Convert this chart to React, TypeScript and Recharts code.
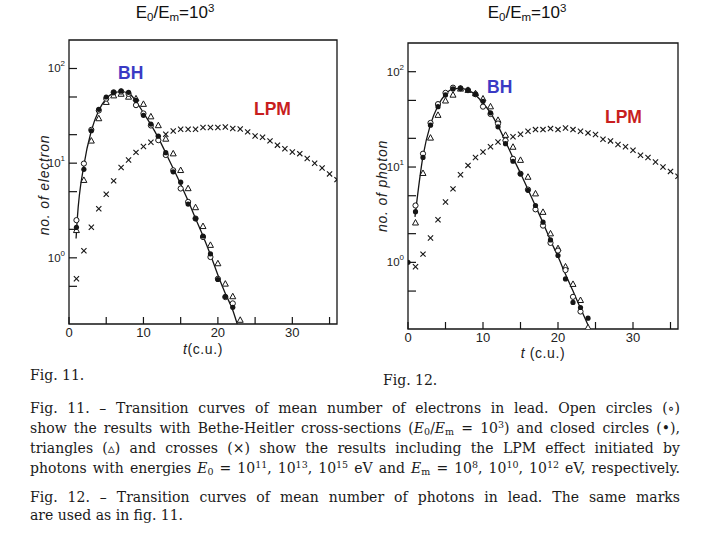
import React from 'react'
import { ComposedChart, Line, Scatter, XAxis, YAxis, ReferenceArea } from 'recharts'

// ---- Fig. 11: electrons ----
const elecOpenT = [1, 2, 3, 4, 5, 6, 7, 8, 9, 10, 11, 12, 13, 14, 15, 16, 17, 18, 19, 20, 21, 22]
const elecOpen = [2.5, 9.9, 22.5, 36, 48, 56, 57, 54, 41, 33.5, 25, 17.5, 12.2, 8.4, 5.4, 3.9, 2.6, 1.66, 1.02, 0.6, 0.385, 0.33]
const elecClosedT = [1, 2, 3, 4, 5, 6, 7, 8, 9, 10, 11, 12, 13, 14, 15, 16, 17, 18, 19, 20, 21, 22]
const elecClosed = [2.1, 8.6, 22, 37, 50, 56, 58, 56, 46, 32, 25.9, 19.3, 12.9, 8.1, 6.3, 3.7, 2.6, 1.7, 1.1, 0.59, 0.39, 0.3]
const elecTriT = [1, 2, 3, 4, 5, 6, 7, 8, 9, 10, 11, 12, 13, 14, 15, 16, 17, 18, 19, 20, 21, 22, 23]
const elecTri = [1.95, 6.6, 17.2, 29.6, 44, 51.6, 53.7, 50, 48, 42, 31, 25, 18, 12.6, 8.4, 5.4, 3.4, 2.15, 1.36, 0.87, 0.53, 0.39, 0.22]
const elecCrossT = [1, 2, 3, 4, 5, 6, 7, 8, 9, 10, 11, 12, 13, 14, 15, 16, 17, 18, 19, 20, 21, 22, 23, 24, 25, 26, 27, 28, 29, 30, 31, 32, 33, 34, 35, 36]
const elecCross = [0.6, 1.19, 2.1, 3.3, 4.7, 6.5, 9.0, 10.8, 13.0, 15.0, 16.6, 18.3, 20.2, 21.9, 22.8, 22.8, 22.8, 23.8, 23.8, 23.8, 24.1, 23.2, 23.0, 21.4, 19.4, 18.8, 17.2, 15.5, 14.2, 13.1, 12.6, 11.2, 10.0, 8.9, 7.7, 6.7]
const elecCurveT = [0.95, 1.1, 2, 3, 4, 5, 6, 7, 8, 9, 10, 11, 12, 13, 14, 15, 16, 17, 18, 19, 20, 21, 22, 22.6]
const elecCurve = [1.6, 2.5, 9.5, 22, 36, 48, 55, 57, 55, 45, 34, 25.5, 18.5, 12.8, 8.8, 6.0, 4.0, 2.6, 1.7, 1.08, 0.66, 0.42, 0.28, 0.2]

// ---- Fig. 12: photons ----
const photOpenT = [1, 2, 3, 4, 5, 6, 7, 8, 9, 10, 11, 12, 13, 14, 15, 16, 17, 18, 19, 20, 21, 22, 23]
const photOpen = [3.95, 13.8, 29, 45.7, 60, 68, 67, 64, 58, 43, 36, 28.6, 19, 12.2, 8.5, 5.8, 3.6, 2.43, 1.6, 1.33, 0.83, 0.435, 0.305]
const photClosedT = [0, 1, 2, 3, 4, 5, 6, 7, 8, 9, 10, 11, 12, 13, 14, 15, 16, 17, 18, 19, 20, 21, 22, 23, 24]
const photClosed = [1.0, 3.4, 12.6, 27.5, 43, 57, 66, 67, 64, 58, 49, 37, 26.4, 17.6, 11.5, 8.5, 5.7, 3.95, 2.64, 1.72, 1.18, 0.67, 0.38, 0.336, 0.26]
const photTriT = [1, 2, 3, 4, 5, 6, 7, 8, 9, 10, 11, 12, 13, 14, 15, 16, 17, 18, 19, 20, 21, 22, 23, 24]
const photTri = [2.6, 8.6, 20.2, 35, 49.5, 57, 66, 64, 59, 52, 43, 31, 21.6, 16.2, 11.8, 7.85, 5.25, 3.36, 2.0, 1.4, 0.9, 0.59, 0.4, 0.207]
const photCrossT = [1, 2, 3, 4, 5, 6, 7, 8, 9, 10, 11, 12, 13, 14, 15, 16, 17, 18, 19, 20, 21, 22, 23, 24, 25, 26, 27, 28, 29, 30, 31, 32, 33, 34, 35, 36]
const photCross = [0.9, 1.22, 1.8, 2.8, 4.3, 5.9, 8.3, 10.4, 12.6, 14.4, 16.3, 18.3, 19.9, 20.8, 22.1, 23.7, 24.7, 24.7, 25.3, 24.7, 25.7, 24.7, 23.7, 22.8, 21.9, 19.6, 18.8, 17.2, 16.3, 15.0, 13.3, 12.6, 11.3, 10.0, 9.0, 8.0]
const photCurveT = [0.93, 2, 3, 4, 5, 6, 7, 8, 9, 10, 11, 12, 13, 14, 15, 16, 17, 18, 19, 20, 21, 22, 23, 24]
const photCurve = [3.0, 13, 28, 44, 58, 66, 67, 64, 57, 47, 37, 27, 18.5, 12.5, 8.6, 5.8, 3.9, 2.6, 1.7, 1.15, 0.75, 0.5, 0.33, 0.22]

const xTicks = [0, 5, 10, 15, 20, 25, 30, 35]
const yTicks = [0.5, 1, 2, 5, 10, 20, 50, 100]

const pts = (ts: number[], vs: number[]) => ts.map((t, i) => ({ t, v: vs[i] }))

const INK = '#151515'
const sans = '"Liberation Sans", Arial, sans-serif'

const OpenCircle = (p: any) => <circle cx={p.cx} cy={p.cy} r={2.6} fill="#fff" stroke={INK} strokeWidth={1} />
const ClosedCircle = (p: any) => <circle cx={p.cx} cy={p.cy} r={2.6} fill={INK} />
const Triangle = (p: any) => (
  <path d={`M${p.cx},${p.cy - 3.3} L${p.cx + 3},${p.cy + 2.2} L${p.cx - 3},${p.cy + 2.2} Z`} fill="#fff" stroke={INK} strokeWidth={1} />
)
const Cross = (p: any) => (
  <g stroke={INK} strokeWidth={1.1}>
    <line x1={p.cx - 2.6} y1={p.cy - 2.6} x2={p.cx + 2.6} y2={p.cy + 2.6} />
    <line x1={p.cx - 2.6} y1={p.cy + 2.6} x2={p.cx + 2.6} y2={p.cy - 2.6} />
  </g>
)

function XTick({ x, y, payload }: any) {
  const v = payload.value
  return (
    <g>
      <line x1={x} y1={y} x2={x} y2={y - 7} stroke={INK} strokeWidth={1.2} />
      {v % 10 === 0 && (
        <text x={x} y={y + 13} textAnchor="middle" fontSize={13} fill="#222" fontFamily={sans}>{v}</text>
      )}
    </g>
  )
}

function YTick({ x, y, payload }: any) {
  const v = payload.value
  const lg = Math.log10(v)
  const exp = Math.round(lg)
  const decade = Math.abs(lg - exp) < 1e-6
  return (
    <g>
      <line x1={x} y1={y} x2={x + 8} y2={y} stroke={INK} strokeWidth={1.2} />
      {decade && (
        <text x={x - 4} y={y + 4} textAnchor="end" fontSize={11.5} fill="#222" fontFamily={sans}>
          10<tspan dy={-6} fontSize={8}>{exp}</tspan>
        </text>
      )}
    </g>
  )
}

interface PanelProps {
  left: number
  yWidth: number
  margin: { top: number; right: number; bottom: number; left: number }
  open: { t: number; v: number }[]
  closed: { t: number; v: number }[]
  tri: { t: number; v: number }[]
  cross: { t: number; v: number }[]
  curve: { t: number; v: number }[]
}

function Panel({ left, yWidth, margin, open, closed, tri, cross, curve }: PanelProps) {
  return (
    <div style={{ position: 'absolute', left, top: 0 }}>
      <ComposedChart width={360} height={370} margin={margin}>
        <XAxis type="number" dataKey="t" domain={[0, 36]} ticks={xTicks} interval={0} height={30}
          tickLine={false} tickSize={0} tickMargin={0} axisLine={false} tick={<XTick />} allowDataOverflow />
        <YAxis type="number" scale="log" domain={[0.2, 200]} ticks={yTicks} interval={0} width={yWidth}
          tickLine={false} tickSize={0} tickMargin={0} axisLine={false} tick={<YTick />} allowDataOverflow />
        <ReferenceArea x1={0} x2={36} y1={0.2} y2={200} fill="none" stroke={INK} strokeWidth={1.3} />
        <Line data={curve} dataKey="v" type="monotone" stroke={INK} strokeWidth={1.3} dot={false} isAnimationActive={false} />
        <Scatter data={cross} dataKey="v" shape={Cross} isAnimationActive={false} />
        <Scatter data={tri} dataKey="v" shape={Triangle} isAnimationActive={false} />
        <Scatter data={open} dataKey="v" shape={OpenCircle} isAnimationActive={false} />
        <Scatter data={closed} dataKey="v" shape={ClosedCircle} isAnimationActive={false} />
      </ComposedChart>
    </div>
  )
}

const abs = (x: number, y: number, extra: React.CSSProperties = {}): React.CSSProperties => ({
  position: 'absolute', left: x, top: y, whiteSpace: 'nowrap', ...extra,
})

function Title({ x }: { x: number }) {
  const s: React.CSSProperties = { fontSize: 11.5, lineHeight: 0 }
  return (
    <div style={abs(x, 3, { fontFamily: sans, fontSize: 17, color: '#111', transform: 'translateX(-50%)' })}>
      E<sub style={{ ...s, verticalAlign: '-3px' }}>0</sub>/E<sub style={{ ...s, verticalAlign: '-3px' }}>m</sub>=10<sup style={{ ...s, verticalAlign: '6px' }}>3</sup>
    </div>
  )
}

const tag = (txt: string, x: number, y: number, color: string) => (
  <div style={abs(x, y, { fontFamily: sans, fontWeight: 700, fontSize: 17.5, color, lineHeight: '18px' })}>{txt}</div>
)

const axTitle = (txt: string, cx: number, cy: number) => (
  <div style={abs(cx, cy, { fontFamily: sans, fontStyle: 'italic', fontSize: 14, letterSpacing: 0.8, color: '#222', transform: 'translate(-50%,-50%) rotate(-90deg)', lineHeight: '16px' })}>{txt}</div>
)

const xTitle = (cx: number, cy: number, txt: string) => (
  <div style={abs(cx, cy, { fontFamily: sans, fontSize: 14, letterSpacing: 0.6, color: '#222', transform: 'translate(-50%,-50%)', lineHeight: '16px' })}>
    <i>t</i>{txt}
  </div>
)

const serif = '"DejaVu Serif", "Liberation Serif", serif'
const sub = (s: string) => <sub style={{ fontSize: '0.68em', lineHeight: 0, verticalAlign: '-0.25em' }}>{s}</sub>
const sup = (s: string) => <sup style={{ fontSize: '0.68em', lineHeight: 0, verticalAlign: '0.5em' }}>{s}</sup>

const capLine = (y: number, content: React.ReactNode, justify = true) => (
  <div style={{
    position: 'absolute', left: 30, top: y, width: 650, fontFamily: serif, fontSize: 14, lineHeight: '20px', color: '#1a1a1a',
    whiteSpace: 'nowrap', textAlign: justify ? 'justify' : 'left', textAlignLast: justify ? 'justify' : 'left',
  }}>{content}</div>
)

export default function App() {
  return (
    <div style={{ position: 'absolute', left: 0, top: 0, width: 720, height: 540, background: '#fff', overflow: 'hidden' }}>
      <Panel left={0} yWidth={69} margin={{ top: 40, right: 23, bottom: 16, left: 0 }}
        open={pts(elecOpenT, elecOpen)} closed={pts(elecClosedT, elecClosed)} tri={pts(elecTriT, elecTri)}
        cross={pts(elecCrossT, elecCross)} curve={pts(elecCurveT, elecCurve)} />
      <Panel left={360} yWidth={48} margin={{ top: 43, right: 42, bottom: 11, left: 0 }}
        open={pts(photOpenT, photOpen)} closed={pts(photClosedT, photClosed)} tri={pts(photTriT, photTri)}
        cross={pts(photCrossT, photCross)} curve={pts(photCurveT, photCurve)} />

      <Title x={175} />
      <Title x={527} />
      {tag('BH', 118, 64, '#3a3ac4')}
      {tag('LPM', 254, 100, '#c81e1e')}
      {tag('BH', 487, 78, '#3a3ac4')}
      {tag('LPM', 605, 108, '#c81e1e')}
      {axTitle('no. of electron', 44, 185)}
      {axTitle('no. of photon', 382, 186)}
      {xTitle(203, 349, '(c.u.)')}
      {xTitle(543, 353, ' (c.u.)')}

      <div style={abs(30, 366, { fontFamily: serif, fontSize: 14, lineHeight: '18px', color: '#1a1a1a' })}>Fig. 11.</div>
      <div style={abs(383, 371, { fontFamily: serif, fontSize: 14, lineHeight: '18px', color: '#1a1a1a' })}>Fig. 12.</div>

      {capLine(398, <>Fig. 11. – Transition curves of mean number of electrons in lead. Open circles (∘)</>)}
      {capLine(418, <>show the results with Bethe-Heitler cross-sections (<i>E</i>{sub('0')}/<i>E</i>{sub('m')} = 10{sup('3')}) and closed circles (•),</>)}
      {capLine(438, <>triangles (▵) and crosses (×) show the results including the LPM effect initiated by</>)}
      {capLine(458, <>photons with energies <i>E</i>{sub('0')} = 10{sup('11')}, 10{sup('13')}, 10{sup('15')} eV and <i>E</i>{sub('m')} = 10{sup('8')}, 10{sup('10')}, 10{sup('12')} eV, respectively.</>)}
      {capLine(487, <>Fig. 12. – Transition curves of mean number of photons in lead. The same marks</>)}
      {capLine(505, <>are used as in fig. 11.</>, false)}
    </div>
  )
}
